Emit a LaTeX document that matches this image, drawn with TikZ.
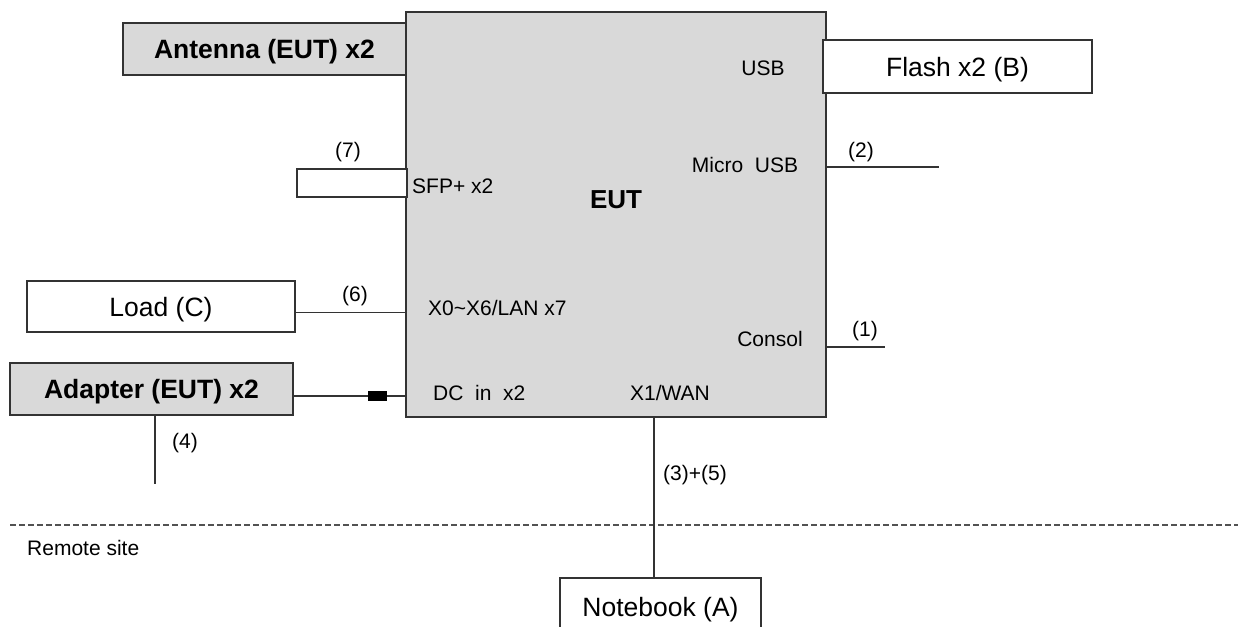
\documentclass[tikz,border=0pt]{standalone}
\usepackage{fontspec}
\setmainfont{Liberation Sans}
\usetikzlibrary{positioning,calc}
\definecolor{boxgray}{HTML}{D9D9D9}
\definecolor{linegray}{HTML}{333333}

\begin{document}
\begin{tikzpicture}[x=1pt,y=-1pt,
    box/.style={draw=linegray,fill=white,line width=1.3pt,inner sep=0pt,text height=25pt,text depth=5.6pt,font=\fontsize{26.5}{30}\selectfont},
    unit/.style={box,fill=boxgray,font=\fontsize{26.5}{30}\selectfont\bfseries},
    lbl/.style={inner sep=0pt,font=\fontsize{21}{25}\selectfont},
    wire/.style={draw=linegray,line width=1.2pt}]
    \useasboundingbox (0,0) rectangle (1238,626);

    % Boxes
    \node[unit,minimum width=420pt,minimum height=405pt] (eut) at (616,214.5) {};
    \node[unit,minimum width=283pt,minimum height=52pt] (ant) at (264.5,49) {Antenna (EUT) x2};
    \node[box,minimum width=269pt,minimum height=53pt] (flash) at (957.5,66.5) {Flash x2 (B)};
    \node[box,minimum width=110pt,minimum height=28pt,text height=0pt,text depth=0pt] (sfp) at (352,183) {};
    \node[box,minimum width=268pt,minimum height=51pt] (load) at (161,306.5) {Load (C)};
    \node[unit,minimum width=283pt,minimum height=52pt] (adapter) at (151.5,389) {Adapter (EUT) x2};
    \node[box,minimum width=201pt,minimum height=58pt] (nb) at (660.5,607) {Notebook (A)};

    % Ports on the EUT
    \node[lbl] (usb) at (763,68) {USB};
    \node[lbl] (musb) at (745,165) {Micro~~USB};
    \node[lbl,anchor=west] (sfptxt) at (412,186) {SFP+ x2};
    \node[lbl,font=\fontsize{26}{30}\selectfont\bfseries] (euttxt) at (616,200) {EUT};
    \node[lbl,anchor=west] (lan) at (428,308) {X0\textasciitilde X6/LAN x7};
    \node[lbl] (consol) at (770,339) {Consol};
    \node[lbl,anchor=west] (dc) at (433,393) {DC~~in~~x2};
    \node[lbl] (wantxt) at (670,393) {X1/WAN};

    % Remote site border
    \coordinate (dl) at (10,525);
    \coordinate (dr) at (1238,525);
    \draw[draw=linegray!85,line width=1.3pt,dash pattern=on 6pt off 3pt] (dl) -- (dr);
    \node[lbl,anchor=west] (remote) at (27,548) {Remote site};

    % Cables
    \draw[wire] ([yshift=-6pt]load.east) -- ([yshift=-6pt]load.east -| eut.west);
    \node[fill=black,minimum width=19pt,minimum height=10pt,inner sep=0pt] (plug) at (377.5,396) {};
    \draw[wire] ([yshift=-7pt]adapter.east) -- (plug) -- (plug -| eut.west);
    \coordinate (p4) at (155,484);
    \draw[wire] (p4 |- adapter.south) -- (p4);
    \coordinate (p2) at (939,167);
    \draw[wire] (p2 -| eut.east) -- (p2);
    \coordinate (p1) at (885,347);
    \draw[wire] (p1 -| eut.east) -- (p1);
    \coordinate (wan) at (654,417);
    \draw[wire] (wan) -- (wan |- nb.north);

    % Cable numbers
    \node[lbl] (n1) at (865,331) {(1)};
    \node[lbl] (n2) at (861,152) {(2)};
    \node[lbl] (n35) at (695,475) {(3)+(5)};
    \node[lbl] (n4) at (185,443) {(4)};
    \node[lbl] (n6) at (355,296) {(6)};
    \node[lbl] (n7) at (348,152) {(7)};
\end{tikzpicture}
\end{document}
